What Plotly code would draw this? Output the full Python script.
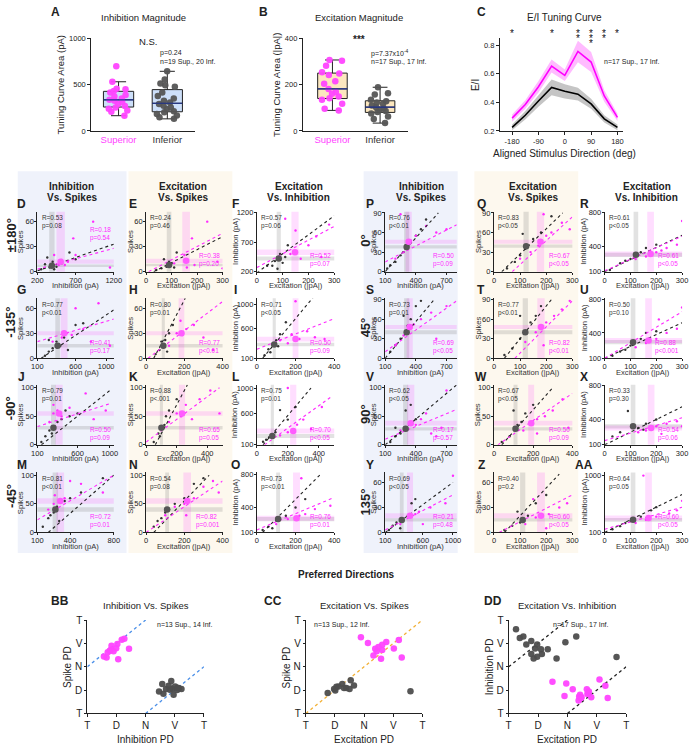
import numpy as np
import plotly.graph_objects as go

W, H = 694, 750
FONT = "Liberation Sans, Arial, sans-serif"
MAG = "#ff2bff"
MAG_DOT = "#ff5cff"
GRY = "#555555"
MAG_BAND = "rgba(255,0,255,0.13)"
GRY_BAND = "rgba(110,110,110,0.20)"

# ---------------- A / B : tuning curve area ----------------
A_SUP = [699, 532, 457, 450, 433, 415, 390, 372, 351, 337, 326, 312, 291, 270, 255, 241, 220, 209, 165]
A_INF = [645, 557, 514, 493, 479, 415, 379, 351, 326, 308, 291, 273, 255, 238, 213, 202, 184, 167, 149, 131]
B_SUP = [307, 304, 282, 254, 249, 242, 215, 204, 182, 168, 161, 149, 142, 135, 118, 96, 89]
B_INF = [189, 163, 158, 135, 129, 123, 118, 110, 103, 97, 92, 86, 82, 75, 63, 52, 34]

# ---------------- C : E/I tuning curve ----------------
C_DIR = [-180, -135, -90, -45, 0, 45, 90, 135, 180]
C_SUP = [0.29, 0.385, 0.51, 0.655, 0.59, 0.757, 0.683, 0.445, 0.295]
C_SUP_SEM = [0.025, 0.03, 0.04, 0.045, 0.04, 0.075, 0.07, 0.04, 0.025]
C_INF = [0.225, 0.31, 0.41, 0.505, 0.478, 0.458, 0.39, 0.285, 0.225]
C_INF_SEM = [0.02, 0.03, 0.04, 0.055, 0.05, 0.045, 0.035, 0.025, 0.02]
C_STARS = [1, 0, 0, 1, 0, 2, 3, 2, 1]

# ---------------- D..AA : per-direction scatter panels ----------------
PANELS = ["D", "E", "F", "G", "H", "I", "J", "K", "L", "M", "N", "O",
          "P", "Q", "R", "S", "T", "U", "V", "W", "X", "Y", "Z", "AA"]
ROW_NAMES = ["±180°", "-135°", "-90°", "-45°", "0°", "45°", "90°", "135°"]
COL_HEADS = [("Inhibition", "Vs. Spikes"), ("Excitation", "Vs. Spikes"), ("Excitation", "Vs. Inhibition")]
X_TITLES = ["Inhibition (pA)", "Excitation (|pA|)", "Excitation (|pA|)"]
Y_TITLES = ["Spikes", "Spikes", "Inhibition (pA)"]

X_RANGE = [[200, 1200], [0, 300], [0, 300], [100, 1100], [0, 400], [0, 400],
           [100, 1050], [0, 500], [0, 500], [100, 800], [0, 400], [0, 400],
           [100, 800], [0, 300], [0, 300], [100, 800], [0, 300], [0, 300],
           [100, 800], [0, 400], [0, 300], [100, 1050], [0, 300], [0, 300]]
X_TICKS = [[200, 700, 1200], [0, 100, 200, 300], [0, 100, 200, 300], [100, 600, 1000], [0, 200, 400], [0, 200, 400],
           [100, 600, 1000], [0, 200, 400], [0, 200, 400], [100, 400, 800], [0, 200, 400], [0, 200, 400],
           [100, 400, 700], [0, 100, 200, 300], [0, 100, 200, 300], [100, 400, 700], [0, 100, 200, 300], [0, 100, 200, 300],
           [100, 400, 700], [0, 200, 400], [0, 100, 200, 300], [100, 600, 1000], [0, 100, 200, 300], [0, 100, 200, 300]]
Y_RANGE = [[0, 72], [0, 72], [200, 1220], [0, 72], [0, 72], [100, 1100],
           [0, 105], [0, 105], [100, 1050], [0, 105], [0, 105], [100, 820],
           [0, 92], [0, 92], [100, 810], [0, 92], [0, 92], [100, 810],
           [0, 105], [0, 105], [100, 810], [0, 72], [0, 72], [100, 1050]]
Y_TICKS = [[0, 30, 60], [0, 30, 60], [200, 700, 1200], [0, 30, 60], [0, 30, 60], [100, 600, 1000],
           [0, 50, 100], [0, 50, 100], [100, 600, 1000], [0, 50, 100], [0, 50, 100], [100, 400, 800],
           [0, 30, 60, 90], [0, 30, 60, 90], [100, 400, 800], [0, 30, 60, 90], [0, 30, 60, 90], [100, 400, 800],
           [0, 50, 100], [0, 50, 100], [100, 400, 800], [0, 30, 60], [0, 30, 60], [100, 1000]]
INF_MEAN = [(390, 7), (90, 8), (85, 425), (365, 15), (90, 15), (90, 330),
            (300, 30), (100, 30), (100, 240), (265, 40), (110, 40), (110, 260),
            (310, 38), (123, 39), (121, 300), (310, 40), (120, 40), (110, 290),
            (300, 28), (110, 28), (110, 320), (320, 15), (110, 15), (110, 300)]
INF_SEM = [(35, 1.5), (9, 1.5), (8, 35), (30, 2), (8, 2), (8, 30),
           (30, 3), (10, 3), (10, 30), (25, 4), (10, 4), (10, 25),
           (25, 2.5), (10, 2.5), (9, 25), (25, 3), (10, 3), (9, 25),
           (25, 3), (10, 3), (9, 25), (25, 2), (10, 2), (9, 30)]
SUP_MEAN = [(505, 12), (157, 13), (148, 530), (450, 30), (185, 30), (200, 420),
            (370, 55), (235, 55), (235, 320), (310, 55), (215, 55), (205, 270),
            (330, 46), (178, 46), (178, 310), (340, 48), (180, 48), (170, 310),
            (350, 38), (190, 38), (180, 300), (430, 20), (180, 20), (170, 330)]
SUP_SEM = [(55, 2.5), (15, 2.5), (14, 45), (45, 2.5), (15, 2.5), (15, 40),
           (45, 4), (20, 4), (20, 40), (35, 5), (20, 5), (18, 30),
           (30, 3), (14, 3), (13, 30), (30, 3), (14, 3), (13, 30),
           (35, 4), (15, 4), (13, 30), (40, 3), (15, 3), (13, 40)]
INF_FIT = [(200, 1, 1200, 33), (30, 0, 300, 42), (0, 180, 300, 1150), (150, 0, 1100, 58), (40, 0, 205, 72), (30, 100, 300, 1150),
           (150, 0, 1000, 95), (60, 0, 270, 105), (40, 100, 350, 1000), (200, 0, 800, 100), (40, 0, 330, 100), (30, 100, 330, 800),
           (100, 0, 620, 90), (30, 0, 263, 90), (0, 100, 300, 530), (100, 0, 580, 90), (40, 0, 220, 90), (0, 100, 300, 520),
           (100, 0, 800, 105), (40, 0, 300, 100), (0, 100, 300, 550), (100, 0, 1000, 60), (40, 0, 250, 70), (0, 100, 300, 700)]
SUP_FIT = [(200, 3, 1200, 28), (10, 0, 300, 46), (0, 270, 300, 970), (100, 20, 1100, 47), (10, 0, 400, 68), (0, 250, 400, 760),
           (100, 32, 1000, 72), (0, 5, 480, 100), (50, 100, 480, 860), (100, 22, 800, 100), (0, 0, 400, 90), (0, 130, 400, 520),
           (100, 15, 800, 72), (70, 0, 300, 84), (0, 110, 300, 520), (100, 10, 800, 88), (80, 0, 300, 88), (0, 100, 300, 650),
           (100, 10, 800, 62), (20, 0, 400, 90), (0, 150, 300, 420), (100, 3, 1000, 45), (20, 0, 300, 45), (0, 150, 300, 500)]
INF_STATS = ["R=0.53<br>p=0.08", "R=0.24<br>p=0.46", "R=0.57<br>p=0.06", "R=0.77<br>p<0.01", "R=0.80<br>p=0.01", "R=0.71<br>p<0.05",
             "R=0.79<br>p=0.01", "R=0.88<br>p<.001", "R=0.75<br>p=0.01", "R=0.81<br>p<0.01", "R=0.54<br>p=0.08", "R=0.73<br>p=<0.01",
             "R=0.76<br>p<0.01", "R=0.83<br>p<0.05", "R=0.61<br>p<0.05", "R=0.73<br>p=0.01", "R=0.77<br>p<0.01", "R=0.50<br>p=0.10",
             "R=0.62<br>p<0.05", "R=0.67<br>p<0.05", "R=0.33<br>p=0.30", "R=0.69<br>p<0.05", "R=0.40<br>p=0.2", "R=0.64<br>p=0.05"]
SUP_STATS = ["R=0.18<br>p=0.54", "R=0.38<br>p=0.20", "R=0.52<br>p=0.07", "R=0.41<br>p=0.17", "R=0.77<br>p<0.01", "R=0.50<br>p=0.09",
             "R=0.50<br>p=0.09", "R=0.65<br>p=0.05", "R=0.70<br>p<0.05", "R=0.72<br>p=0.01", "R=0.82<br>p=0.001", "R=0.76<br>p=0.01",
             "R=0.50<br>p=0.09", "R=0.67<br>p<0.05", "R=0.61<br>p<0.05", "R=0.69<br>p<0.05", "R=0.82<br>p<0.01", "R=0.88<br>p<0.001",
             "R=0.17<br>p=0.57", "R=0.50<br>p=0.09", "R=0.54<br>p=0.06", "R=0.21<br>p=0.48", "R=0.60<br>p<0.05", "R=0.60<br>p<0.05"]
SUP_STATS_TOP = ["D"]

# individual cells (small dots)
INF_PTS = {
    "D": [(250, 3), (300, 9), (330, 17), (360, 5), (400, 12), (420, 3), (450, 6), (520, 10), (620, 23), (700, 15)],
    "E": [(40, 2), (60, 4), (70, 15), (80, 6), (100, 10), (110, 5), (120, 23), (90, 12)],
    "F": [(40, 300), (60, 300), (70, 380), (90, 500), (100, 350), (120, 650), (110, 450), (80, 250)],
    "G": [(200, 3), (250, 8), (300, 12), (350, 20), (400, 15), (450, 25), (500, 10), (600, 40), (700, 42), (250, 22)],
    "H": [(50, 5), (70, 10), (90, 15), (100, 22), (120, 30), (140, 40), (80, 20), (110, 8)],
    "I": [(40, 150), (60, 250), (80, 330), (100, 400), (120, 500), (150, 700), (110, 300), (70, 200)],
    "J": [(150, 5), (200, 15), (250, 25), (300, 30), (350, 40), (400, 45), (450, 60), (500, 50), (280, 20), (600, 55)],
    "K": [(50, 5), (80, 20), (100, 30), (120, 35), (150, 60), (200, 80), (90, 15), (130, 50)],
    "L": [(40, 150), (80, 220), (100, 240), (120, 300), (150, 650), (200, 500), (60, 180), (250, 700)],
    "M": [(150, 10), (200, 25), (250, 35), (280, 45), (300, 20), (350, 55), (400, 60), (220, 30), (500, 70), (700, 95)],
    "N": [(40, 10), (80, 25), (100, 35), (120, 40), (150, 50), (200, 60), (250, 85), (300, 95), (60, 20)],
    "O": [(30, 130), (60, 170), (100, 240), (120, 260), (150, 300), (200, 400), (250, 500), (80, 150)],
    "P": [(120, 5), (150, 10), (200, 15), (250, 25), (300, 35), (350, 45), (400, 55), (450, 65), (500, 80), (280, 30)],
    "Q": [(50, 5), (80, 15), (100, 25), (120, 35), (130, 40), (150, 50), (180, 60), (220, 85), (110, 58)],
    "R": [(20, 120), (60, 200), (100, 250), (120, 290), (140, 330), (160, 380), (200, 420), (80, 230)],
    "S": [(150, 10), (200, 20), (250, 30), (300, 40), (320, 50), (350, 60), (400, 80), (450, 88), (280, 65)],
    "T": [(40, 5), (70, 15), (100, 30), (120, 40), (140, 55), (160, 65), (180, 80), (100, 65)],
    "U": [(30, 130), (60, 180), (100, 250), (110, 290), (140, 330), (160, 400), (200, 420), (80, 200)],
    "V": [(150, 5), (200, 15), (250, 20), (300, 28), (350, 35), (400, 45), (300, 60), (350, 70), (200, 30)],
    "W": [(40, 5), (80, 15), (110, 28), (140, 40), (160, 55), (200, 70), (100, 60), (120, 35)],
    "X": [(30, 200), (60, 250), (110, 320), (130, 300), (160, 350), (200, 400), (90, 500), (150, 280)],
    "Y": [(150, 3), (200, 8), (250, 12), (320, 15), (400, 20), (450, 35), (500, 40), (300, 5)],
    "Z": [(40, 3), (70, 8), (100, 12), (110, 15), (130, 20), (160, 35), (200, 45), (90, 25)],
    "AA": [(30, 150), (60, 200), (100, 280), (110, 300), (140, 350), (180, 450), (200, 500), (80, 250)],
}
SUP_PTS = {
    "D": [(420, 20), (480, 8), (520, 14), (560, 8), (600, 12), (670, 40), (930, 60), (1150, 5), (700, 20)],
    "E": [(110, 10), (150, 20), (160, 5), (180, 40), (190, 8), (240, 60), (280, 12), (300, 4)],
    "F": [(110, 1100), (150, 900), (170, 420), (200, 650), (230, 800), (250, 450), (130, 500), (280, 1000)],
    "G": [(300, 20), (420, 25), (480, 30), (550, 28), (600, 60), (700, 35), (800, 20), (1050, 15), (900, 66)],
    "H": [(120, 15), (160, 30), (190, 28), (210, 35), (250, 40), (300, 25), (350, 10), (180, 45)],
    "I": [(120, 400), (180, 500), (200, 1050), (220, 420), (260, 550), (300, 450), (350, 420), (160, 350)],
    "J": [(250, 40), (300, 55), (350, 60), (400, 50), (500, 65), (700, 90), (800, 45), (950, 60), (300, 70)],
    "K": [(150, 40), (200, 55), (230, 50), (260, 70), (300, 45), (350, 80), (420, 95), (480, 55)],
    "L": [(150, 250), (200, 300), (230, 330), (260, 420), (300, 500), (350, 350), (420, 700), (200, 1000)],
    "M": [(200, 40), (250, 50), (300, 55), (350, 60), (400, 90), (500, 85), (700, 70), (260, 65)],
    "N": [(100, 30), (150, 45), (200, 50), (220, 55), (250, 60), (300, 80), (350, 90), (380, 70), (210, 30)],
    "O": [(100, 200), (160, 260), (200, 280), (220, 300), (250, 320), (300, 380), (380, 420), (230, 750)],
    "P": [(200, 20), (280, 30), (320, 45), (350, 48), (400, 55), (500, 70), (600, 60), (700, 65), (250, 88)],
    "Q": [(100, 20), (140, 30), (170, 40), (180, 48), (200, 55), (220, 60), (260, 75), (290, 65), (190, 88)],
    "R": [(120, 250), (160, 280), (180, 300), (200, 330), (240, 380), (280, 420), (300, 700), (220, 350)],
    "S": [(200, 20), (280, 35), (340, 48), (380, 52), (450, 60), (550, 70), (700, 80), (600, 30)],
    "T": [(120, 25), (160, 40), (180, 48), (200, 55), (230, 65), (260, 75), (290, 88), (190, 20)],
    "U": [(120, 230), (160, 280), (170, 310), (200, 330), (240, 400), (280, 450), (300, 700), (210, 560)],
    "V": [(250, 25), (350, 38), (400, 35), (450, 45), (550, 20), (600, 15), (650, 30), (700, 95), (500, 55)],
    "W": [(150, 25), (190, 38), (220, 45), (260, 50), (300, 60), (350, 80), (380, 30), (220, 20)],
    "X": [(130, 250), (180, 300), (200, 320), (240, 350), (280, 380), (300, 320), (220, 230), (160, 270)],
    "Y": [(300, 10), (430, 20), (500, 22), (550, 25), (700, 30), (900, 35), (1000, 68), (600, 10)],
    "Z": [(120, 10), (160, 18), (180, 20), (210, 22), (250, 30), (280, 35), (200, 5), (150, 40)],
    "AA": [(120, 250), (160, 300), (170, 330), (200, 350), (250, 400), (280, 450), (300, 600), (150, 1000)],
}

# ---------------- BB / CC / DD : preferred directions ----------------
PD_TICKS = ["T", "D", "N", "V", "T"]
BB_SUP_X = [0.57, 0.66, 0.70, 0.77, 0.83, 0.90, 0.99, 1.03, 1.18, 1.27, 1.43, 1.06, 0.80]
BB_SUP_Y = [2.44, 2.40, 2.62, 2.69, 2.90, 2.66, 2.79, 2.97, 3.16, 3.20, 2.77, 2.32, 2.72]
BB_INF_X = [2.46, 2.57, 2.61, 2.70, 2.79, 2.88, 2.92, 2.96, 3.01, 3.08, 3.14, 3.23, 2.83, 3.10]
BB_INF_Y = [0.94, 1.26, 0.84, 1.05, 1.19, 1.39, 1.05, 0.80, 1.15, 1.01, 1.08, 1.05, 1.02, 1.10]
CC_SUP_X = [1.89, 2.13, 2.38, 2.43, 2.62, 2.62, 2.32, 2.58, 3.02, 3.19, 3.29, 2.49, 2.76]
CC_SUP_Y = [3.26, 3.02, 2.77, 2.66, 2.94, 2.72, 2.48, 2.34, 2.78, 3.14, 2.40, 2.85, 3.06]
CC_INF_X = [0.75, 1.01, 1.05, 1.25, 1.31, 1.39, 1.50, 1.54, 1.65, 3.59, 0.97, 1.12]
CC_INF_Y = [0.88, 0.98, 1.14, 1.26, 1.09, 1.09, 1.05, 1.42, 1.20, 0.95, 1.05, 1.16]
DD_SUP_X = [1.49, 1.96, 1.90, 2.18, 2.40, 2.43, 2.46, 2.38, 2.66, 2.70, 2.73, 2.81, 3.09, 3.29, 3.37, 2.48, 2.68]
DD_SUP_Y = [1.36, 1.28, 0.75, 1.04, 0.73, 0.80, 0.66, 0.56, 1.04, 0.87, 0.94, 0.69, 1.46, 1.19, 0.66, 0.69, 0.83]
DD_INF_X = [0.25, 0.38, 0.50, 0.60, 0.77, 0.90, 0.77, 0.97, 0.85, 1.13, 1.10, 0.97, 1.63, 1.93, 1.33, 2.30, 3.67]
DD_INF_Y = [3.60, 3.23, 3.30, 2.95, 3.10, 2.78, 2.55, 2.43, 2.35, 2.55, 2.75, 2.95, 2.35, 3.05, 2.75, 3.30, 2.42]
BB_REF = [(0, 2, 2, 4), (2, 0, 4, 2)]
CC_REF = [(0, 0, 4, 4)]
DD_REF = [(0, 2, 2, 4), (2, 0, 4, 2)]

fig = go.Figure()
layout = {}
shapes = []
annotations = []
n_ax = [0]


def add_axes(px0, px1, py0, py1, xr, yr, xt=None, yt=None, xtt=None, ytt=None,
             ytitle=None, tsize=7.5, title_size=9.5, xticks="outside", standoff=0):
    n_ax[0] += 1
    s = "" if n_ax[0] == 1 else str(n_ax[0])
    base = dict(showline=True, linecolor="#222", linewidth=1, showgrid=False, zeroline=False,
                ticks="outside", ticklen=2, tickcolor="#222", tickfont=dict(size=tsize, color="#222"),
                ticklabelstandoff=standoff)
    xa = dict(base, domain=[px0 / W, px1 / W], range=xr, anchor="y" + s)
    ya = dict(base, domain=[1 - py1 / H, 1 - py0 / H], range=yr, anchor="x" + s)
    xa["ticks"] = xticks
    if xt is not None:
        xa.update(tickmode="array", tickvals=xt, ticktext=xtt if xtt else [str(v) for v in xt])
    if yt is not None:
        ya.update(tickmode="array", tickvals=yt, ticktext=ytt if ytt else [str(v) for v in yt])
    if ytitle:
        ya["title"] = dict(text=ytitle, font=dict(size=title_size, color="#222"), standoff=2)
    layout["xaxis" + s] = xa
    layout["yaxis" + s] = ya
    return "x" + s, "y" + s


def text(px, py, s, size=10, bold=False, color="#222", xanchor="center", yanchor="middle", angle=0):
    if bold:
        s = "<b>" + s + "</b>"
    annotations.append(dict(x=px / W, y=1 - py / H, xref="paper", yref="paper", text=s, showarrow=False,
                            font=dict(size=size, color=color), xanchor=xanchor, yanchor=yanchor,
                            textangle=angle))


def bg(px0, px1, py0, py1, color):
    shapes.append(dict(type="rect", xref="paper", yref="paper", x0=px0 / W, x1=px1 / W,
                       y0=1 - py1 / H, y1=1 - py0 / H, fillcolor=color, line=dict(width=0), layer="below"))


# column backgrounds
bg(12, 123, 168, 556, "#eff2fb")
bg(125, 231, 168, 556, "#fdf8ee")
bg(365, 461, 168, 556, "#eff2fb")
bg(478, 584, 168, 556, "#fdf8ee")

# ---------------- A & B ----------------
def box_panel(px0, px1, sup, inf, ymax, yt, fill, ytitle, xr):
    xa, ya = add_axes(px0, px1, 33, 127, xr, [0, ymax], xt=[0, 1],
                      xtt=["<span style='color:#ff44ff'>Superior</span>", "<span style='color:#333'>Inferior</span>"],
                      yt=yt, ytitle=ytitle, tsize=7.5, title_size=9.5, xticks="")
    layout["xaxis" + xa[1:]]["tickfont"] = dict(size=9.5)
    layout["yaxis" + ya[1:]]["ticklen"] = 3
    for i, (vals, col) in enumerate([(sup, "#ff44ff"), (inf, "#555")]):
        fig.add_trace(go.Box(y=vals, x=[i] * len(vals), xaxis=xa, yaxis=ya, boxpoints="all", jitter=0.85,
                             pointpos=0, fillcolor=fill, line=dict(color="#222", width=1), width=0.62,
                             whiskerwidth=0.5, marker=dict(color=col, size=6.5, opacity=0.95),
                             showlegend=False, hoverinfo="skip"))
        med = float(np.median(vals))
        fig.add_trace(go.Scatter(x=[i - 0.31, i + 0.31], y=[med, med], xaxis=xa, yaxis=ya, mode="lines",
                                 line=dict(color="#1b2f8f", width=1.2), showlegend=False, hoverinfo="skip"))


box_panel(87, 193, A_SUP, A_INF, 1000, [0, 500, 1000], "rgba(196,217,248,0.85)", "Tuning Curve Area (pA)", [-0.56, 1.57])
box_panel(303, 410, B_SUP, B_INF, 400, [0, 200, 400], "rgba(252,228,184,0.9)", "Tuning Curve Area (|pA|)", [-0.62, 1.58])
text(51, 6, "A", 12, True)
text(140, 12, "Inhibition Magnitude", 9.5)
text(145, 36, "N.S.", 9.5)
text(155, 48, "p=0.24", 7, xanchor="left")
text(155, 57, "n=19 Sup., 20 Inf.", 7, xanchor="left")
text(263, 6, "B", 12, True)
text(360, 12, "Excitation Magnitude", 9.5)
text(360, 34, "***", 10, True)
text(370, 48, "p=7.37x10<sup>-4</sup>", 7, xanchor="left")
text(370, 57, "n=17 Sup., 17 Inf.", 7, xanchor="left")

# ---------------- C ----------------
xa, ya = add_axes(504, 630, 33, 127, [-222, 200], [0.2, 0.848], xt=[-180, -90, 0, 90, 180],
                  yt=[0.2, 0.4, 0.6, 0.8], ytt=["0.2", "0.4", "0.6", "0.8"], tsize=7.5)
layout["xaxis" + xa[1:]]["ticklen"] = 3
layout["yaxis" + ya[1:]]["ticklen"] = 3
for m, s, line_c, band_c in [(C_INF, C_INF_SEM, "#000", "rgba(90,90,90,0.35)"),
                             (C_SUP, C_SUP_SEM, "#ff00ff", "rgba(255,60,255,0.35)")]:
    up = [a + b for a, b in zip(m, s)]
    lo = [a - b for a, b in zip(m, s)]
    fig.add_trace(go.Scatter(x=C_DIR + C_DIR[::-1], y=up + lo[::-1], fill="toself", fillcolor=band_c,
                             line=dict(width=0), mode="lines", xaxis=xa, yaxis=ya, showlegend=False, hoverinfo="skip"))
    fig.add_trace(go.Scatter(x=C_DIR, y=m, mode="lines", line=dict(color=line_c, width=1.6),
                             xaxis=xa, yaxis=ya, showlegend=False, hoverinfo="skip"))
for d, cnt in zip(C_DIR, C_STARS):
    for k in range(cnt):
        annotations.append(dict(x=d, y=1 - (28 + 5 * k) / H, xref=xa, yref="paper", text="*", showarrow=False,
                                font=dict(size=10, color="#111"), yanchor="middle", xanchor="center"))
text(485, 6, "C", 12, True)
text(570, 12, "E/I Tuning Curve", 10)
text(608, 57, "n=17 Sup., 17 Inf.", 7, xanchor="left")
text(479, 80, "E/I", 10, angle=-90)
text(570, 150, "Aligned Stimulus Direction (deg)", 10)

# ---------------- grid ----------------
COL_PX = [(32, 110), (143, 221), (256, 335), (387, 460), (498, 578), (611, 690)]
YTITLE_OFF = [-17, -16, -22, -12, -16, -21]
LETTER_X = [16, 130, 234, 372, 485, 590]
ROW_TOP = [209, 297, 385, 474]
PH = 61
HEAD_X = [67, 181, 299, 424, 538, 654]
for k, h in enumerate(HEAD_X):
    text(h, 183, COL_HEADS[k % 3][0], 10, True)
    text(h, 195, COL_HEADS[k % 3][1], 10, True)

for i, name in enumerate(PANELS):
    block, rest = divmod(i, 12)
    r, c = divmod(rest, 3)
    col = block * 3 + c
    x0, x1 = COL_PX[col]
    top = ROW_TOP[r]
    xa, ya = add_axes(x0, x1, top, top + PH, X_RANGE[i], Y_RANGE[i], xt=X_TICKS[i], yt=Y_TICKS[i],
                      tsize=7.5, standoff=-1)
    xd, yd = xa + " domain", ya + " domain"
    for (mx, my), (sx, sy), fc in [(INF_MEAN[i], INF_SEM[i], GRY_BAND), (SUP_MEAN[i], SUP_SEM[i], MAG_BAND)]:
        shapes.append(dict(type="rect", xref=xa, yref=yd, x0=mx - sx, x1=mx + sx, y0=0, y1=1,
                           fillcolor=fc, line=dict(width=0), layer="below"))
        shapes.append(dict(type="rect", xref=xd, yref=ya, x0=0, x1=1, y0=my - sy, y1=my + sy,
                           fillcolor=fc, line=dict(width=0), layer="below"))
    for pts, colr in [(INF_PTS.get(name, []), "#333"), (SUP_PTS.get(name, []), MAG)]:
        if pts:
            fig.add_trace(go.Scatter(x=[p[0] for p in pts], y=[p[1] for p in pts], mode="markers",
                                     marker=dict(color=colr, size=2.4), xaxis=xa, yaxis=ya,
                                     showlegend=False, hoverinfo="skip"))
    for fit, colr in [(INF_FIT[i], "#222"), (SUP_FIT[i], MAG)]:
        fig.add_trace(go.Scatter(x=[fit[0], fit[2]], y=[fit[1], fit[3]], mode="lines",
                                 line=dict(color=colr, width=1.1, dash="dot"), xaxis=xa, yaxis=ya,
                                 showlegend=False, hoverinfo="skip"))
    fig.add_trace(go.Scatter(x=[INF_MEAN[i][0], SUP_MEAN[i][0]], y=[INF_MEAN[i][1], SUP_MEAN[i][1]],
                             mode="markers", marker=dict(color=[GRY, MAG_DOT], size=6.5),
                             xaxis=xa, yaxis=ya, showlegend=False, hoverinfo="skip"))
    annotations.append(dict(x=0.03, y=0.99, xref=xd, yref=yd, text=INF_STATS[i], showarrow=False,
                            font=dict(size=6.4, color="#333"), xanchor="left", yanchor="top", align="left"))
    top_mag = name in SUP_STATS_TOP
    annotations.append(dict(x=0.99, y=0.8 if top_mag else 0.02, xref=xd, yref=yd, text=SUP_STATS[i],
                            showarrow=False, font=dict(size=6.4, color=MAG), xanchor="right",
                            yanchor="top" if top_mag else "bottom", align="left"))
    text((x0 + x1) / 2, top + PH + 14, X_TITLES[c], 7.6, color="#333")
    text(x0 + YTITLE_OFF[col], top + PH / 2, Y_TITLES[c], 7.6, color="#333", angle=-90)
    text(LETTER_X[col], top - 8, name, 12, True)
    if c == 0:
        if block == 0:
            text(5, top + 24, ROW_NAMES[r], 13, True, angle=-90)
        else:
            text(367, top + 30, ROW_NAMES[4 + r], 13, True, angle=-90)

# ---------------- BB / CC / DD ----------------
text(347, 578, "Preferred Directions", 10, True)
PD_PANELS = [
    (83, 202, "BB", 55, "Inhibition Vs. Spikes", "Inhibition PD", "Spike PD", BB_SUP_X, BB_SUP_Y, BB_INF_X, BB_INF_Y,
     BB_REF, "#4a8fe8", "n=13 Sup., 14 Inf.", 152),
    (306, 425, "CC", 273, "Excitation Vs. Spikes", "Excitation PD", "Spike PD", CC_SUP_X, CC_SUP_Y, CC_INF_X, CC_INF_Y,
     CC_REF, "#f2b035", "n=13 Sup., 12 Inf.", 312),
    (513, 633, "DD", 497, "Excitation Vs. Inhibition", "Excitation PD", "Inhibition PD", DD_SUP_X, DD_SUP_Y, DD_INF_X,
     DD_INF_Y, DD_REF, "#222", "n=17 Sup., 17 Inf.", 556),
]
for x0, x1, lab, lab_x, title, xt_, yt_, sx, sy, ix, iy, refs, rc, ntext, nx in PD_PANELS:
    xa, ya = add_axes(x0, x1, 624, 719, [0, 4], [0, 4], xt=[0, 1, 2, 3, 4], yt=[0, 1, 2, 3, 4],
                      xtt=PD_TICKS, ytt=PD_TICKS, tsize=10)
    layout["xaxis" + xa[1:]]["ticklen"] = 3
    for ref in refs:
        fig.add_trace(go.Scatter(x=[ref[0], ref[2]], y=[ref[1], ref[3]], mode="lines",
                                 line=dict(color=rc, width=1.3, dash="dot"), xaxis=xa, yaxis=ya,
                                 showlegend=False, hoverinfo="skip"))
    fig.add_trace(go.Scatter(x=ix, y=iy, mode="markers", marker=dict(color="#4d4d4d", size=6.5, opacity=0.95),
                             xaxis=xa, yaxis=ya, showlegend=False, hoverinfo="skip"))
    fig.add_trace(go.Scatter(x=sx, y=sy, mode="markers", marker=dict(color="#ff44ff", size=6.5, opacity=0.95),
                             xaxis=xa, yaxis=ya, showlegend=False, hoverinfo="skip"))
    text(lab_x, 605, lab, 12, True)
    text((x0 + x1) / 2, 609, title, 9.5)
    text((x0 + x1) / 2, 745, xt_, 10)
    text(x0 - 20, 672, yt_, 10, angle=-90)
    text(nx, 629, ntext, 7, xanchor="left")

layout.update(width=W, height=H, margin=dict(l=0, r=0, t=0, b=0), paper_bgcolor="white",
              plot_bgcolor="rgba(0,0,0,0)", font=dict(family=FONT, color="#222"),
              shapes=shapes, annotations=annotations, showlegend=False)
fig.update_layout(layout)
fig.write_html("out.html", config={"displayModeBar": False},
               post_script="document.body.style.margin='0px';")
